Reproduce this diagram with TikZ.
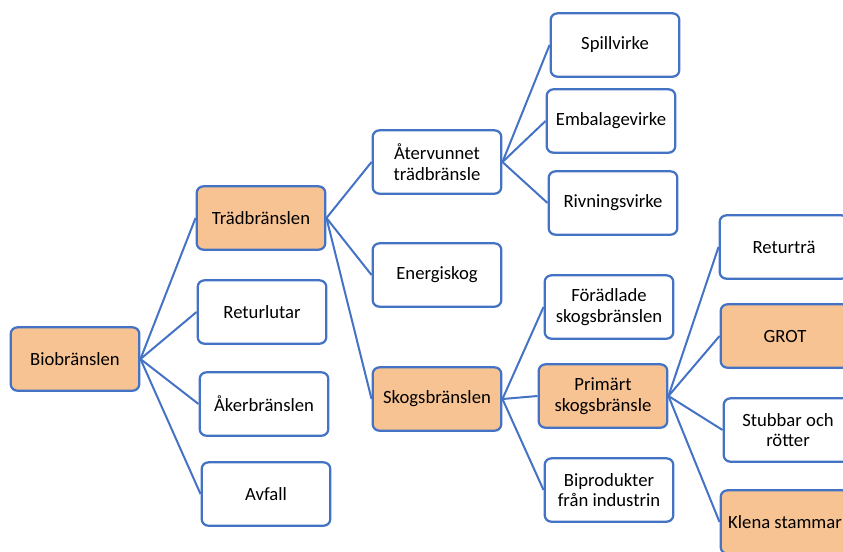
\documentclass[tikz,border=0pt]{standalone}
\usepackage{fontspec}
\setmainfont{Carlito}
\definecolor{boxblue}{RGB}{68,114,196}
\definecolor{boxorange}{RGB}{248,195,146}

\begin{document}
\begin{tikzpicture}[x=0.75pt,y=-0.75pt,
    box/.style={draw=boxblue, line width=1.7pt, rounded corners=5pt, fill=white,
        minimum width=96.5pt, minimum height=47.5pt, inner sep=1pt, align=center,
        font=\fontsize{14}{15.5}\selectfont},
    hot/.style={box, fill=boxorange},
    link/.style={draw=boxblue, line width=1.5pt}]
    \useasboundingbox (0,0) rectangle (843,551);
    \clip (0,0) rectangle (843,551);

    % first level
    \node[hot] (bio) at (75,359) {Biobränslen};
    \node[hot] (trad) at (261,218) {Trädbränslen};
    \node[box] (retlut) at (262,312) {Returlutar};
    \node[box] (aker) at (264,404) {Åkerbränslen};
    \node[box] (avfall) at (266,494) {Avfall};

    % second level
    \node[box] (ater) at (437,162) {Återvunnet\\trädbränsle};
    \node[box] (energi) at (437,275) {Energiskog};
    \node[hot] (skog) at (437,399) {Skogsbränslen};

    \node[box] (spill) at (615,45) {Spillvirke};
    \node[box] (embal) at (611,121) {Embalagevirke};
    \node[box] (rivn) at (613,203) {Rivningsvirke};

    \node[box] (forad) at (609,307) {Förädlade\\skogsbränslen};
    \node[hot] (prim) at (603,396) {Primärt\\skogsbränsle};
    \node[box] (bipro) at (609,490) {Biprodukter\\från industrin};

    % third level
    \node[box] (retur) at (784,247) {Returträ};
    \node[hot] (grot) at (785,336) {GROT};
    \node[box] (stub) at (788,430) {Stubbar och\\rötter};
    \node[hot] (klena) at (785,522) {Klena stammar};

    \foreach \a/\b in {bio/trad, bio/retlut, bio/aker, bio/avfall,
        trad/ater, trad/energi, trad/skog,
        ater/spill, ater/embal, ater/rivn,
        skog/forad, skog/prim, skog/bipro,
        prim/retur, prim/grot, prim/stub, prim/klena}
        \draw[link] (\a.east) -- (\b.west);

\end{tikzpicture}
\end{document}
